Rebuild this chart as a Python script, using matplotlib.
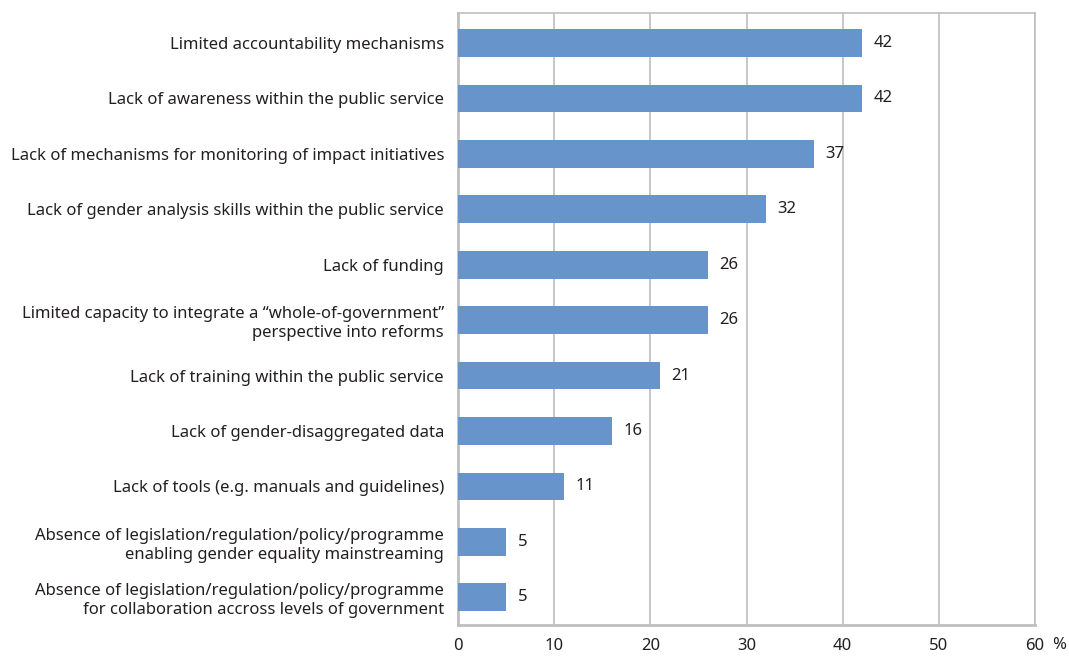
import matplotlib
matplotlib.use("Agg")
import matplotlib.pyplot as plt

# obstacles to gender mainstreaming, share of respondents (%)
categories = [
    "Limited accountability mechanisms",
    "Lack of awareness within the public service",
    "Lack of mechanisms for monitoring of impact initiatives",
    "Lack of gender analysis skills within the public service",
    "Lack of funding",
    "Limited capacity to integrate a \u201cwhole-of-government\u201d\nperspective into reforms",
    "Lack of training within the public service",
    "Lack of gender-disaggregated data",
    "Lack of tools (e.g. manuals and guidelines)",
    "Absence of legislation/regulation/policy/programme\nenabling gender equality mainstreaming",
    "Absence of legislation/regulation/policy/programme\nfor collaboration accross levels of government",
]
values = [42, 42, 37, 32, 26, 26, 21, 16, 11, 5, 5]
xticks = [0, 10, 20, 30, 40, 50, 60]

plt.rcParams['font.family'] = ['Noto Sans', 'DejaVu Sans']
text_col = "#231f20"
grid_col = "#bfbfbf"
fsize = 12

fig = plt.figure(figsize=(10.69, 6.56), dpi=100)
ax = fig.add_axes([458 / 1069, 1 - 625 / 656, (1035 - 458) / 1069, (625 - 12.5) / 656])

pos = list(range(len(categories)))
ax.barh(pos, values, height=0.5, color="#6694cb", zorder=3)
for p, v in zip(pos, values):
    ax.text(v + 1.2, p, str(v), va="center", ha="left", fontsize=fsize, color=text_col)

ax.set_xlim(0, 60)
ax.set_ylim(len(categories) - 0.5, -0.55)
ax.set_yticks(pos)
ax.set_yticklabels(categories, fontsize=fsize, color=text_col, linespacing=1.25)
ax.set_xticks(xticks)
ax.set_xticklabels([str(t) for t in xticks], fontsize=fsize, color=text_col)
ax.tick_params(length=0)
ax.tick_params(axis="x", pad=9)
ax.tick_params(axis="y", pad=10)
ax.xaxis.grid(True, color=grid_col, linewidth=1.2, zorder=0)
for s in ax.spines.values():
    s.set_color(grid_col)
    s.set_linewidth(1.2)
ax.spines["left"].set_linewidth(2)
ax.spines["bottom"].set_linewidth(2)

fig.text(1059 / 1069, 1 - 645 / 656, "%", fontsize=fsize, color=text_col, ha="center", va="center")

fig.savefig("out.png", dpi=100)
